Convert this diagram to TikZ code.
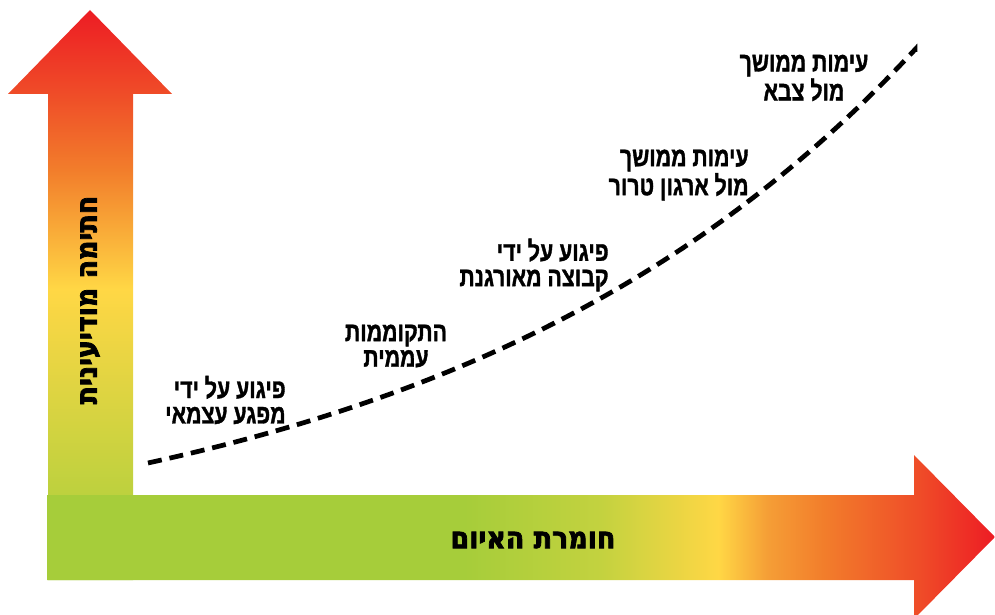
\documentclass[tikz,border=0pt]{standalone}
\usepackage{fontspec}
\setmainfont{Liberation Sans}
\newfontfamily\hebfont[Script=Hebrew, FakeStretch=0.78, FakeBold=1.3]{Liberation Sans}
\newfontfamily\hebaxis[Script=Hebrew, FakeStretch=0.9, FakeBold=2.5]{DejaVu Sans}
\TeXXeTstate=1
\usepackage{xcolor}
\usepackage{tikz}
\usetikzlibrary{positioning}
\definecolor{lowgreen}{HTML}{A6CD3A}
\definecolor{midgreen}{HTML}{C3D23F}
\definecolor{midyellow}{HTML}{FFD745}
\definecolor{lightorange}{HTML}{F59E36}
\definecolor{midorange}{HTML}{F27D2B}
\definecolor{redorange}{HTML}{EF4C28}
\definecolor{topred}{HTML}{ED1C24}
\pgfdeclareverticalshading{riseshade}{100bp}{color(0bp)=(lowgreen); color(25bp)=(lowgreen);
  color(32.6bp)=(midgreen!80!lowgreen); color(50.5bp)=(midyellow); color(61bp)=(midorange);
  color(67.7bp)=(redorange); color(75bp)=(topred); color(100bp)=(topred)}
\pgfdeclarehorizontalshading{runshade}{100bp}{color(0bp)=(lowgreen); color(25bp)=(lowgreen);
  color(47bp)=(lowgreen); color(54.2bp)=(midgreen); color(60.4bp)=(midyellow);
  color(63bp)=(lightorange); color(66bp)=(midorange); color(71bp)=(redorange);
  color(75bp)=(topred); color(100bp)=(topred)}

\begin{document}
\begin{tikzpicture}[x=0.02cm, y=-0.02cm,
  stage/.style={font=\hebfont\bfseries\fontsize{15.5}{14.5}\selectfont, inner sep=0pt},
  axislabel/.style={font=\hebaxis\bfseries\fontsize{17}{18}\selectfont, inner sep=0pt},
  trend/.style={line width=2.7pt, dash pattern=on 8pt off 4.5pt}]
\useasboundingbox (0,0) rectangle (995,615);
% Vertical arrow
\shade[shading=riseshade] (48,580) -- (48,94) -- (8,94) -- (90,10) -- (172,94)
  -- (133,94) -- (133,580) -- cycle;
% Horizontal arrow
\shade[shading=runshade] (47,495) -- (914,495) -- (914,455) -- (995,537)
  -- (914,619) -- (914,580) -- (47,580) -- cycle;
% Axis labels
\node[axislabel, rotate=90] (yaxis) at (90,300) {\beginR חתימה מודיעינית\endR};
\node[axislabel] (xaxis) at (533,540) {\beginR חומרת האיום\endR};
% Stages
\node[stage, align=right, anchor=east] (lone) at (286,400)
  {\beginR פיגוע על ידי\endR\\\beginR מפגע עצמאי\endR};
\node[stage, align=center] (uprising) at (396,346)
  {\beginR התקוממות\endR\\\beginR עממית\endR};
\node[stage, align=right, anchor=east] (group) at (609,265)
  {\beginR פיגוע על ידי\endR\\\beginR קבוצה מאורגנת\endR};
\node[stage, align=right, anchor=east] (terror) at (749,175)
  {\beginR עימות ממושך\endR\\\beginR מול ארגון טרור\endR};
\node[stage, align=center] (army) at (804,78)
  {\beginR עימות ממושך\endR\\\beginR מול צבא\endR};
% Trend curve
\coordinate (t0) at (148,463);
\coordinate (t1) at (915,52);
\draw[trend] (t0) -- plot[domain=148:915, samples=80]
  (\x, {463 - 105.7*(exp(0.00208*(\x-148))-1)}) -- (t1);
\end{tikzpicture}
\end{document}
